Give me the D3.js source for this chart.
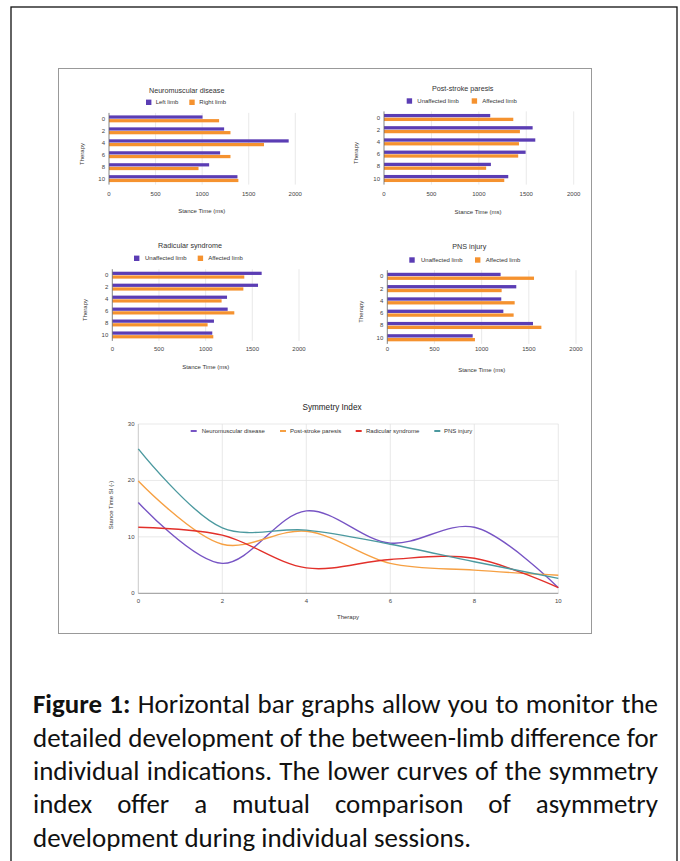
<!DOCTYPE html>
<html>
<head>
<meta charset="utf-8">
<script src="https://cdn.jsdelivr.net/npm/d3@7"></script>
<style>
  body { margin: 0; background: #fff; }
  svg { display: block; }
</style>
</head>
<body>
<script>
// ---------------------------------------------------------------
// Data
const sessions = [0, 2, 4, 6, 8, 10];
const stance_ticks = [0, 500, 1000, 1500, 2000];

const neuro_left = [1004, 1236, 1929, 1193, 1075, 1379];
const neuro_right = [1182, 1304, 1664, 1304, 961, 1389];
const stroke_unaffected = [1120, 1567, 1595, 1493, 1127, 1310];
const stroke_affected = [1363, 1433, 1423, 1415, 1077, 1268];
const radic_unaffected = [1600, 1561, 1229, 1236, 1089, 1071];
const radic_affected = [1414, 1404, 1171, 1307, 1021, 1082];
const pns_unaffected = [1201, 1367, 1208, 1230, 1544, 905];
const pns_affected = [1555, 1212, 1350, 1339, 1633, 929];

const si_neuro = [16.1, 5.3, 14.6, 8.9, 11.7, 1.0];
const si_stroke = [19.9, 8.7, 11.0, 5.3, 4.1, 3.2];
const si_radic = [11.7, 10.3, 4.5, 6.0, 6.2, 1.0];
const si_pns = [25.6, 11.6, 11.2, 8.7, 5.6, 2.65];
const si_ticks = [0, 10, 20, 30];

const caption_lines = [
  "Figure 1: Horizontal bar graphs allow you to monitor the",
  "detailed development of the between-limb difference for",
  "individual indications. The lower curves of the symmetry",
  "index offer a mutual comparison of asymmetry",
  "development during individual sessions."
];

// ---------------------------------------------------------------
const width = 680, height = 861;
const bar_purple = "#5b3db4";
const bar_orange = "#f5922f";
const text_color = "#333";
const grid_color = "#e3e3e3";
const font = "'Liberation Sans', Arial, sans-serif";

const svg = d3.select("body").append("svg")
  .attr("width", width)
  .attr("height", height);

// outer frame and inner chart frame
svg.append("rect")
  .attr("x", 11).attr("y", 7)
  .attr("width", 666).attr("height", 860)
  .attr("fill", "none").attr("stroke", "#111").attr("stroke-width", 1.3);

svg.append("rect")
  .attr("x", 58.5).attr("y", 68.5)
  .attr("width", 533).attr("height", 565)
  .attr("fill", "none").attr("stroke", "#999").attr("stroke-width", 1);

// ===============================================================
// Bar panels

const panels = [
  {title: "Neuromuscular disease", names: ["Left limb", "Right limb"], a: neuro_left, b: neuro_right,
   x0: 109, x1: 295.3, y0: 112.9, y1: 184.6, title_x: 186.7, title_y: 90,
   leg_y: 102.3, leg: [146, 155.7, 189.3, 199.3], tick_y: 193.5, xlab: [201.7, 211], ylab: [81.7, 154]},
  {title: "Post-stroke paresis", names: ["Unaffected limb", "Affected limb"], a: stroke_unaffected, b: stroke_affected,
   x0: 384, x1: 573.7, y0: 111.4, y1: 184.6, title_x: 462.7, title_y: 88.3,
   leg_y: 101, leg: [406.7, 417.3, 471.7, 482.3], tick_y: 194, xlab: [478, 211.7], ylab: [356, 153]},
  {title: "Radicular syndrome", names: ["Unaffected limb", "Affected limb"], a: radic_unaffected, b: radic_affected,
   x0: 112.3, x1: 299, y0: 269.2, y1: 340.9, title_x: 190, title_y: 245,
   leg_y: 258.3, leg: [134, 145, 197.7, 208.3], tick_y: 349, xlab: [205.7, 366.7], ylab: [85, 310]},
  {title: "PNS injury", names: ["Unaffected limb", "Affected limb"], a: pns_unaffected, b: pns_affected,
   x0: 387.3, x1: 576, y0: 270.2, y1: 343.9, title_x: 469.3, title_y: 246.7,
   leg_y: 260, leg: [409.3, 421, 475, 485.7], tick_y: 349.3, xlab: [481.7, 370], ylab: [360.7, 311.7]}
];

panels.forEach(p => draw_bar_panel(p));

function draw_bar_panel(p) {
  const g = svg.append("g").style("font-family", font);

  const x = d3.scaleLinear().domain([0, 2000]).range([p.x0, p.x1]);
  const y = d3.scaleBand().domain(sessions).range([p.y0, p.y1])
    .paddingInner(0.42).paddingOuter(0.21);
  const sub = d3.scaleBand().domain([0, 1]).range([0, y.bandwidth()]).paddingInner(0.12);

  // gridlines
  g.append("g").selectAll("line")
    .data(stance_ticks.slice(1))
    .join("line")
    .attr("x1", d => x(d)).attr("x2", d => x(d))
    .attr("y1", p.y0).attr("y2", p.y1)
    .attr("stroke", grid_color).attr("stroke-width", 0.8);

  // bars
  const rows = sessions.map((s, i) => ({s, v: [p.a[i], p.b[i]]}));
  g.append("g").selectAll("g")
    .data(rows)
    .join("g")
    .attr("transform", d => `translate(0,${y(d.s)})`)
    .selectAll("rect")
    .data(d => d.v)
    .join("rect")
    .attr("x", x(0))
    .attr("y", (d, j) => sub(j))
    .attr("width", d => x(d) - x(0))
    .attr("height", sub.bandwidth())
    .attr("fill", (d, j) => j === 0 ? bar_purple : bar_orange);

  // baseline
  g.append("line")
    .attr("x1", x(0)).attr("x2", x(0))
    .attr("y1", p.y0).attr("y2", p.y1)
    .attr("stroke", "#666").attr("stroke-width", 0.8);

  // axis labels
  g.append("g").selectAll("text")
    .data(stance_ticks)
    .join("text")
    .attr("x", d => x(d)).attr("y", p.tick_y)
    .attr("text-anchor", "middle").attr("dominant-baseline", "central")
    .attr("font-size", 6).attr("fill", "#444")
    .text(d => d);

  g.append("g").selectAll("text")
    .data(sessions)
    .join("text")
    .attr("x", x(0) - 4).attr("y", d => y(d) + y.bandwidth() / 2)
    .attr("text-anchor", "end").attr("dominant-baseline", "central")
    .attr("font-size", 6).attr("fill", "#444")
    .text(d => d);

  g.append("text")
    .attr("x", p.title_x).attr("y", p.title_y)
    .attr("text-anchor", "middle").attr("dominant-baseline", "central")
    .attr("font-size", 7.2).attr("fill", text_color)
    .text(p.title);

  // legend
  [0, 1].forEach(j => {
    g.append("rect")
      .attr("x", p.leg[j * 2]).attr("y", p.leg_y - 2.7)
      .attr("width", 5.4).attr("height", 5.4)
      .attr("fill", j === 0 ? bar_purple : bar_orange);
    g.append("text")
      .attr("x", p.leg[j * 2 + 1]).attr("y", p.leg_y)
      .attr("dominant-baseline", "central")
      .attr("font-size", 6).attr("fill", text_color)
      .text(p.names[j]);
  });

  g.append("text")
    .attr("x", p.xlab[0]).attr("y", p.xlab[1])
    .attr("text-anchor", "middle").attr("dominant-baseline", "central")
    .attr("font-size", 6).attr("fill", text_color)
    .text("Stance Time (ms)");

  g.append("text")
    .attr("transform", `translate(${p.ylab[0]},${p.ylab[1]}) rotate(-90)`)
    .attr("text-anchor", "middle").attr("dominant-baseline", "central")
    .attr("font-size", 6).attr("fill", text_color)
    .text("Therapy");
}

// ===============================================================
// Symmetry index line chart

const si_series = [
  {name: "Neuromuscular disease", values: si_neuro, color: "#7754c4", leg: [190.7, 201.7]},
  {name: "Post-stroke paresis", values: si_stroke, color: "#f6a043", leg: [280, 290]},
  {name: "Radicular syndrome", values: si_radic, color: "#e2302a", leg: [355.7, 366]},
  {name: "PNS injury", values: si_pns, color: "#4b999f", leg: [434.3, 444]}
];

const lc = svg.append("g").style("font-family", font);
const lx = d3.scaleLinear().domain([0, 10]).range([138.3, 558.3]);
const ly = d3.scaleLinear().domain([0, 30]).range([593.3, 424]);

lc.append("g").selectAll("line")
  .data(si_ticks.slice(1))
  .join("line")
  .attr("x1", lx(0)).attr("x2", lx(10))
  .attr("y1", d => ly(d)).attr("y2", d => ly(d))
  .attr("stroke", grid_color).attr("stroke-width", 0.8);

lc.append("g").selectAll("line")
  .data(sessions.slice(1))
  .join("line")
  .attr("x1", d => lx(d)).attr("x2", d => lx(d))
  .attr("y1", ly(0)).attr("y2", ly(30))
  .attr("stroke", grid_color).attr("stroke-width", 0.8);

lc.append("line")
  .attr("x1", lx(0)).attr("x2", lx(0))
  .attr("y1", ly(0)).attr("y2", ly(30))
  .attr("stroke", "#bbb").attr("stroke-width", 0.8);

lc.append("line")
  .attr("x1", lx(0)).attr("x2", lx(10))
  .attr("y1", ly(0)).attr("y2", ly(0))
  .attr("stroke", "#777").attr("stroke-width", 0.8);

const si_line = d3.line()
  .curve(d3.curveCatmullRom.alpha(0.5))
  .x((d, i) => lx(sessions[i]))
  .y(d => ly(d));

lc.append("g").selectAll("path")
  .data(si_series)
  .join("path")
  .attr("d", d => si_line(d.values))
  .attr("fill", "none")
  .attr("stroke", d => d.color)
  .attr("stroke-width", 1.4);

lc.append("g").selectAll("text")
  .data(si_ticks)
  .join("text")
  .attr("x", 134.5).attr("y", d => ly(d))
  .attr("text-anchor", "end").attr("dominant-baseline", "central")
  .attr("font-size", 6).attr("fill", "#444")
  .text(d => d);

lc.append("g").selectAll("text")
  .data(sessions)
  .join("text")
  .attr("x", d => lx(d)).attr("y", 601)
  .attr("text-anchor", "middle").attr("dominant-baseline", "central")
  .attr("font-size", 6).attr("fill", "#444")
  .text(d => d);

lc.append("text")
  .attr("x", 332).attr("y", 407)
  .attr("text-anchor", "middle").attr("dominant-baseline", "central")
  .attr("font-size", 8.2).attr("fill", "#222")
  .text("Symmetry Index");

si_series.forEach(s => {
  lc.append("line")
    .attr("x1", s.leg[0]).attr("x2", s.leg[0] + 6)
    .attr("y1", 431).attr("y2", 431)
    .attr("stroke", s.color).attr("stroke-width", 2);
  lc.append("text")
    .attr("x", s.leg[1]).attr("y", 431)
    .attr("dominant-baseline", "central")
    .attr("font-size", 6).attr("fill", text_color)
    .text(s.name);
});

lc.append("text")
  .attr("transform", "translate(111,505) rotate(-90)")
  .attr("text-anchor", "middle").attr("dominant-baseline", "central")
  .attr("font-size", 6).attr("fill", text_color)
  .text("Stance Time SI (-)");

lc.append("text")
  .attr("x", 348).attr("y", 617)
  .attr("text-anchor", "middle").attr("dominant-baseline", "central")
  .attr("font-size", 6).attr("fill", text_color)
  .text("Therapy");

// ===============================================================
// Justified caption

const cap = svg.append("g")
  .style("font-family", "Carlito, Lato, 'Open Sans', sans-serif")
  .attr("fill", "#111");
const cap_left = 33, cap_right = 658;
const cap_base = [713, 747, 780, 813, 847];
const space_em = 0.23;

// measure at a probe size, then pick the size where the fullest line fits with normal spacing
const probe = 20;
const measured = caption_lines.map((line, li) => line.split(" ").map((w, wi) => {
  const t = cap.append("text").attr("font-size", probe)
    .attr("font-weight", li === 0 && wi < 2 ? 700 : 400).text(w);
  const len = t.node().getComputedTextLength();
  t.remove();
  return len;
}));
const cap_size = d3.min(measured.slice(0, 3), ws =>
  (cap_right - cap_left) / ((d3.sum(ws) + space_em * probe * (ws.length - 1)) / probe));

caption_lines.forEach((line, li) => {
  const words = line.split(" ");
  const nodes = words.map((w, wi) => cap.append("text")
    .attr("y", cap_base[li])
    .attr("font-size", cap_size)
    .attr("font-weight", li === 0 && wi < 2 ? 700 : 400)
    .text(w));
  const widths = nodes.map(n => n.node().getComputedTextLength());
  const total = d3.sum(widths);
  const last = li === caption_lines.length - 1;
  const gap = last ? cap_size * space_em : (cap_right - cap_left - total) / (words.length - 1);
  let cx = cap_left;
  nodes.forEach((n, i) => {
    n.attr("x", cx);
    cx += widths[i] + gap;
  });
});
</script>
</body>
</html>
